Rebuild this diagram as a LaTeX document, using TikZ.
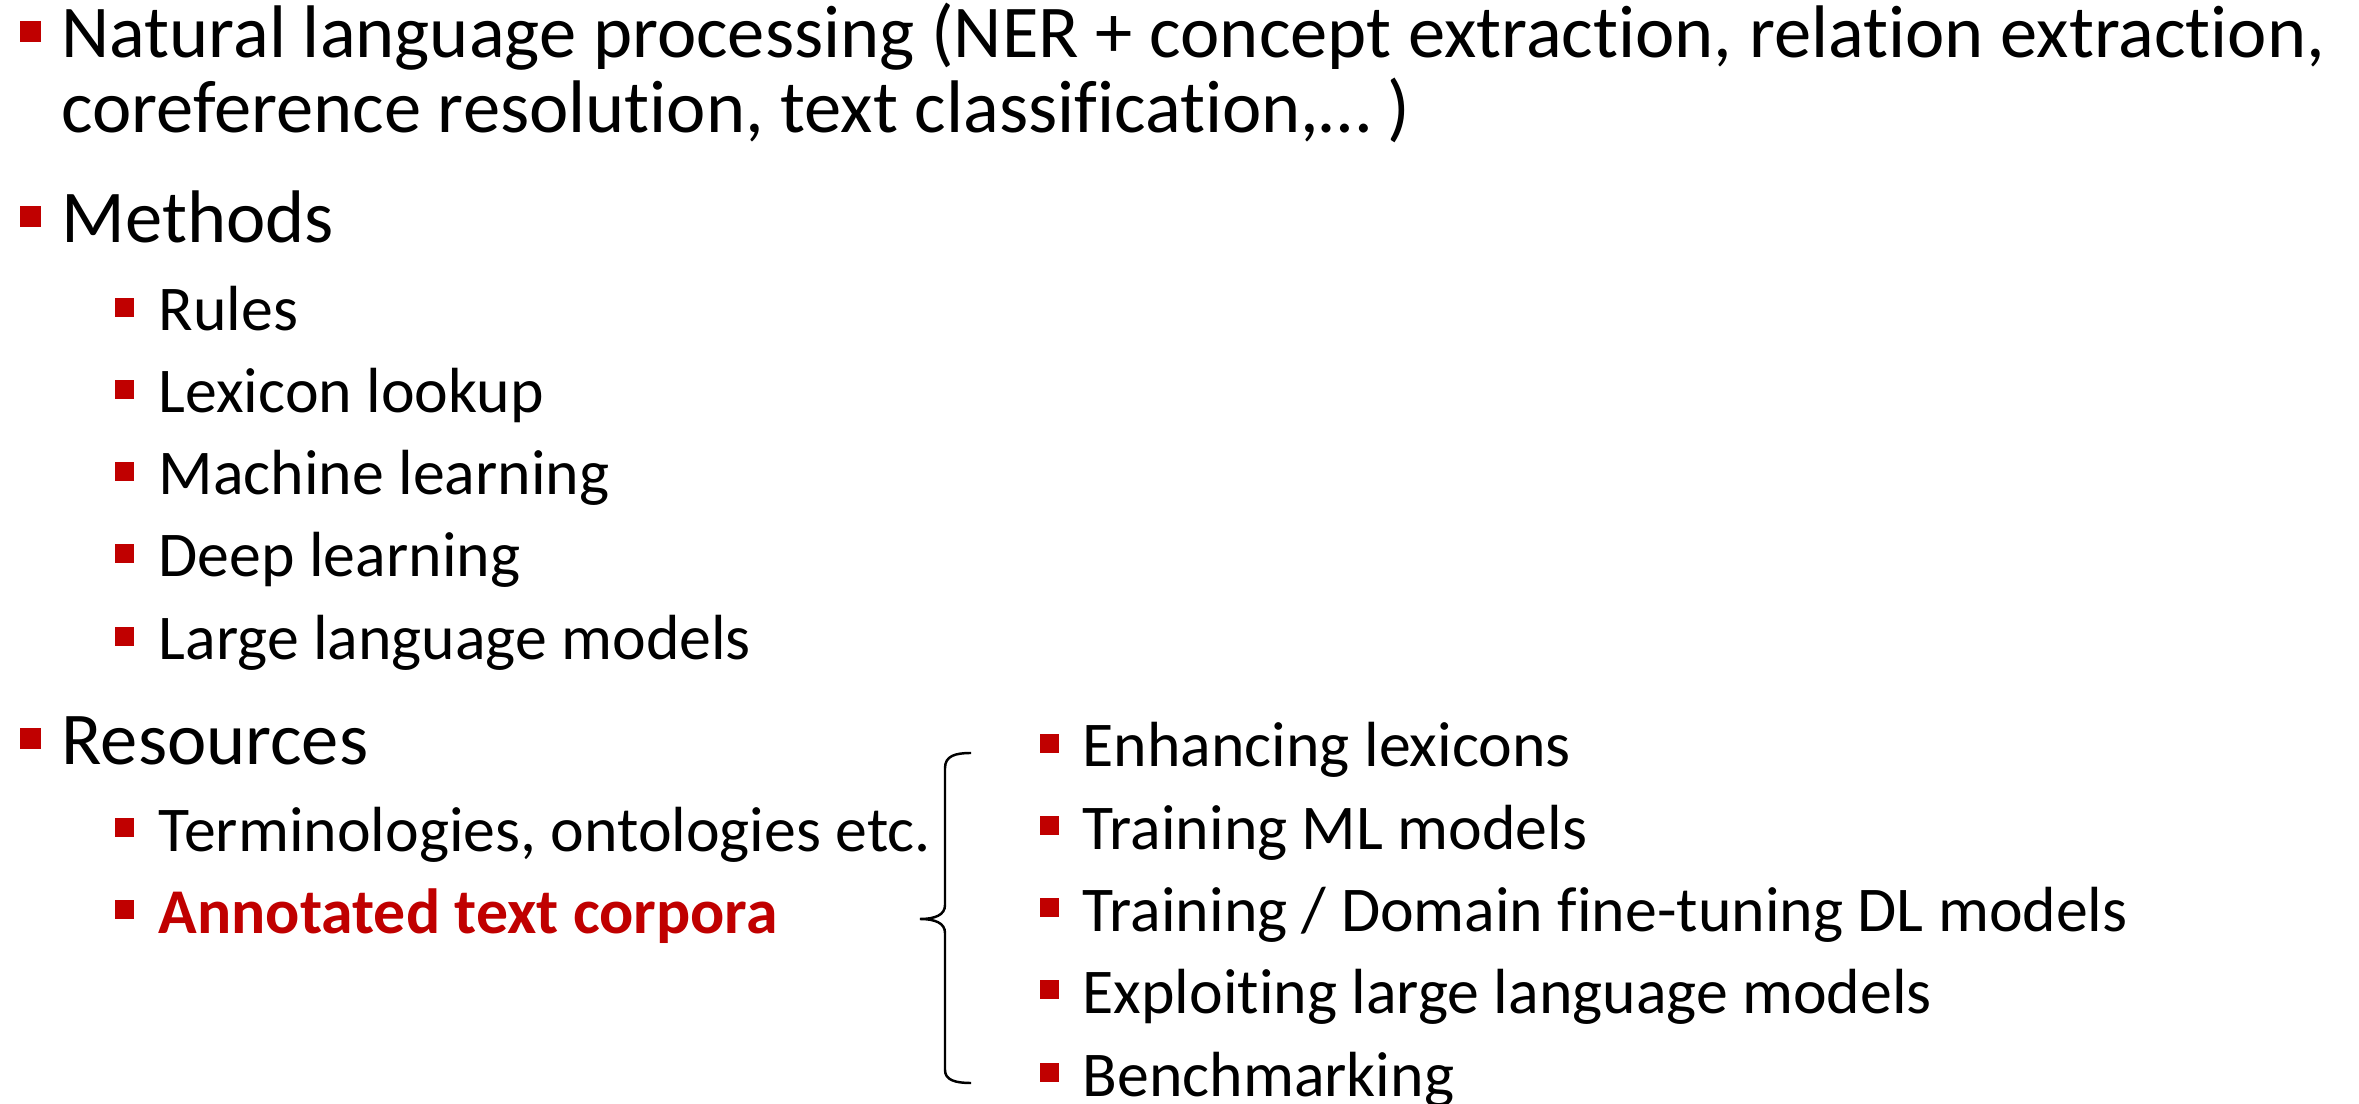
\documentclass[tikz,border=0pt]{standalone}
\usepackage{fontspec}
\setmainfont{Carlito}[Ligatures=NoCommon]
\usepackage{xcolor}
\usetikzlibrary{positioning}
\definecolor{bulred}{HTML}{C00000}

\begin{document}
\begin{tikzpicture}
    \tikzstyle{head}=[inner sep=0pt, anchor=base west, font=\fontsize{21.2pt}{25pt}\selectfont]
    \tikzstyle{sub}=[inner sep=0pt, anchor=base west, font=\fontsize{18.15pt}{21pt}\selectfont]
    \tikzstyle{sq1}=[rectangle, fill=bulred, minimum size=0.21cm, inner sep=0pt]
    \tikzstyle{sq2}=[rectangle, fill=bulred, minimum size=0.19cm, inner sep=0pt]
    \tikzstyle{brace}=[line width=0.7pt]
    \useasboundingbox (0,0) rectangle (23.59,-11.04);
    % left column
    \node[head] (nlp) at (0.61,-0.58) {Natural language processing (NER + concept extraction, relation extraction,};
    \node[head, below=0.75cm of nlp.base west, anchor=base west] (nlp2) {coreference resolution, text classification,… )};
    \node[head, below=1.10cm of nlp2.base west, anchor=base west] (methods) {Methods};
    \node[sub, below right=0.88cm and 0.97cm of methods.base west, anchor=base west] (rules) {Rules};
    \node[sub, below=0.82cm of rules.base west, anchor=base west] (lexicon) {Lexicon lookup};
    \node[sub, below=0.82cm of lexicon.base west, anchor=base west] (ml) {Machine learning};
    \node[sub, below=0.82cm of ml.base west, anchor=base west] (dl) {Deep learning};
    \node[sub, below=0.83cm of dl.base west, anchor=base west] (llm) {Large language models};
    \node[head, below left=1.05cm and 0.97cm of llm.base west, anchor=base west] (resources) {Resources};
    \node[sub, below right=0.86cm and 0.97cm of resources.base west, anchor=base west] (termin) {Terminologies, ontologies etc.};
    \node[sub, below=0.82cm of termin.base west, anchor=base west, text=bulred, font=\fontsize{18.15pt}{21pt}\selectfont\bfseries] (corpora) {Annotated text corpora};
    % right column
    \node[sub, above right=0.84cm and 9.24cm of termin.base west, anchor=base west] (lexica) {Enhancing lexicons};
    \node[sub, below=0.82cm of lexica.base west, anchor=base west] (trainml) {Training ML models};
    \node[sub, below=0.82cm of trainml.base west, anchor=base west] (traindl) {Training / Domain fine-tuning DL models};
    \node[sub, below=0.82cm of traindl.base west, anchor=base west] (exploit) {Exploiting large language models};
    \node[sub, below=0.83cm of exploit.base west, anchor=base west] (bench) {Benchmarking};
    % bullets
    \node[sq1, left=0.19cm of nlp.base west, yshift=0.265cm] (b-nlp) {};
    \node[sq1, left=0.19cm of methods.base west, yshift=0.265cm] (b-methods) {};
    \node[sq1, left=0.19cm of resources.base west, yshift=0.265cm] (b-resources) {};
    \node[sq2, left=0.235cm of rules.base west, yshift=0.235cm] (b-rules) {};
    \node[sq2, left=0.235cm of lexicon.base west, yshift=0.235cm] (b-lexicon) {};
    \node[sq2, left=0.235cm of ml.base west, yshift=0.235cm] (b-ml) {};
    \node[sq2, left=0.235cm of dl.base west, yshift=0.235cm] (b-dl) {};
    \node[sq2, left=0.235cm of llm.base west, yshift=0.235cm] (b-llm) {};
    \node[sq2, left=0.235cm of termin.base west, yshift=0.235cm] (b-termin) {};
    \node[sq2, left=0.235cm of corpora.base west, yshift=0.235cm] (b-corpora) {};
    \node[sq2, left=0.22cm of lexica.base west, yshift=0.235cm] (b-lexica) {};
    \node[sq2, left=0.22cm of trainml.base west, yshift=0.235cm] (b-trainml) {};
    \node[sq2, left=0.22cm of traindl.base west, yshift=0.235cm] (b-traindl) {};
    \node[sq2, left=0.22cm of exploit.base west, yshift=0.235cm] (b-exploit) {};
    \node[sq2, left=0.22cm of bench.base west, yshift=0.235cm] (b-bench) {};
    % brace
    \draw[brace] (9.71,-7.53) .. controls (9.55,-7.53) and (9.45,-7.56) .. (9.45,-7.68) -- (9.45,-9.05)
        .. controls (9.45,-9.15) and (9.35,-9.19) .. (9.20,-9.19)
        .. controls (9.35,-9.19) and (9.45,-9.23) .. (9.45,-9.33) -- (9.45,-10.70)
        .. controls (9.45,-10.80) and (9.55,-10.83) .. (9.71,-10.83);
\end{tikzpicture}
\end{document}
